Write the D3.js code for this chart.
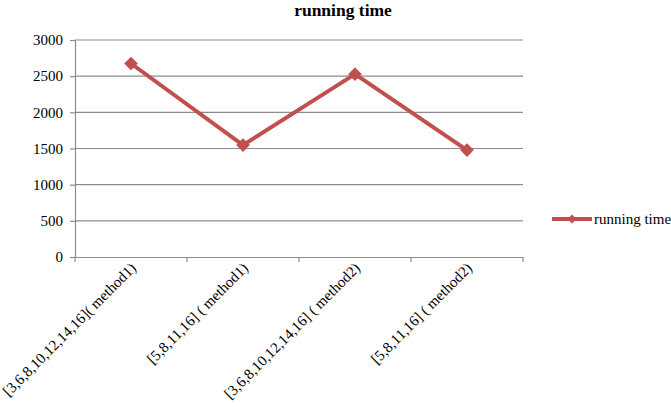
<!DOCTYPE html>
<html><head><meta charset="utf-8">
<script src="https://cdn.jsdelivr.net/npm/d3@7"></script>
<style>body{margin:0;background:#fff}svg{display:block}text{font-family:"Liberation Serif","Times New Roman",serif;fill:#000}</style>
</head><body>
<script>
const title = "running time";
const seriesName = "running time";
const categories = ["[3,6,8,10,12,14,16]( method1)", "[5,8,11,16] ( method1)", "[3,6,8,10,12,14,16] ( method2)", "[5,8,11,16] ( method2)"];
const values = [2675, 1547, 2528, 1478];
const yTicks = [0, 500, 1000, 1500, 2000, 2500, 3000];

const W = 671, H = 407;
const FONT = '"Liberation Serif","Times New Roman",serif';
const svg = d3.select("body").append("svg").attr("width", W).attr("height", H)
  .attr("font-family", FONT);
const x = d3.scaleBand().domain(categories).range([75, 523]);
const y = d3.scaleLinear().domain([0, 3000]).range([257, 40]);
const color = "#c0504d", gridC = "#8c8c8c";

svg.append("text").attr("x", 343).attr("y", 16).attr("text-anchor", "middle")
  .style("font-weight", "bold").style("font-size", "17.5px").text(title);

// gridlines
svg.append("g").selectAll("line").data(yTicks.filter(d => d > 0)).join("line")
  .attr("x1", 75).attr("x2", 523).attr("y1", d => y(d)).attr("y2", d => y(d))
  .attr("stroke", gridC).attr("stroke-width", 1.2);

// y axis
const ya = svg.append("g").attr("transform", "translate(75,0)")
  .call(d3.axisLeft(y).tickValues(yTicks).tickSize(5).tickPadding(7).tickFormat(d3.format("d")));
ya.attr("font-family", FONT).attr("font-size", null);
ya.selectAll("text").style("font-size", "15px").style("font-family", FONT);
ya.selectAll("line,path").attr("stroke", gridC).attr("stroke-width", 1.2);

// x axis
const xa = svg.append("g").attr("transform", "translate(0,257)")
  .call(d3.axisBottom(x).tickSize(0).tickSizeOuter(0).tickFormat(""));
xa.select("path").attr("stroke", gridC).attr("stroke-width", 1.2);
xa.selectAll(".tick").remove();
const bounds = categories.map(c => x(c)).concat([x.range()[1]]);
svg.append("g").selectAll("line").data(bounds).join("line")
  .attr("x1", d => d).attr("x2", d => d).attr("y1", 257).attr("y2", 262)
  .attr("stroke", gridC).attr("stroke-width", 1.2);
svg.append("g").selectAll("text").data(categories).join("text")
  .attr("transform", d => `translate(${x(d) + x.bandwidth() / 2 + 6},${269}) rotate(-45)`)
  .attr("text-anchor", "end").style("font-size", "15px").style("font-family", FONT).text(d => d);

// line
const cx = d => x(d) + x.bandwidth() / 2;
svg.append("path").datum(values)
  .attr("d", d3.line().x((v, i) => cx(categories[i])).y(v => y(v)))
  .attr("fill", "none").attr("stroke", color).attr("stroke-width", 4).attr("stroke-linejoin", "round");
svg.append("g").selectAll("path").data(values).join("path")
  .attr("transform", (v, i) => `translate(${cx(categories[i])},${y(v)})`)
  .attr("d", d3.symbol().type(d3.symbolDiamond2).size(120)).attr("fill", color);

// legend
const ly = 219;
svg.append("line").attr("x1", 552).attr("x2", 592).attr("y1", ly).attr("y2", ly)
  .attr("stroke", color).attr("stroke-width", 4);
svg.append("path").attr("transform", `translate(572,${ly})`)
  .attr("d", d3.symbol().type(d3.symbolDiamond2).size(50)).attr("fill", color);
svg.append("text").attr("x", 594).attr("y", ly + 5).style("font-size", "15px").style("font-family", FONT).text(seriesName);
</script>
</body></html>
